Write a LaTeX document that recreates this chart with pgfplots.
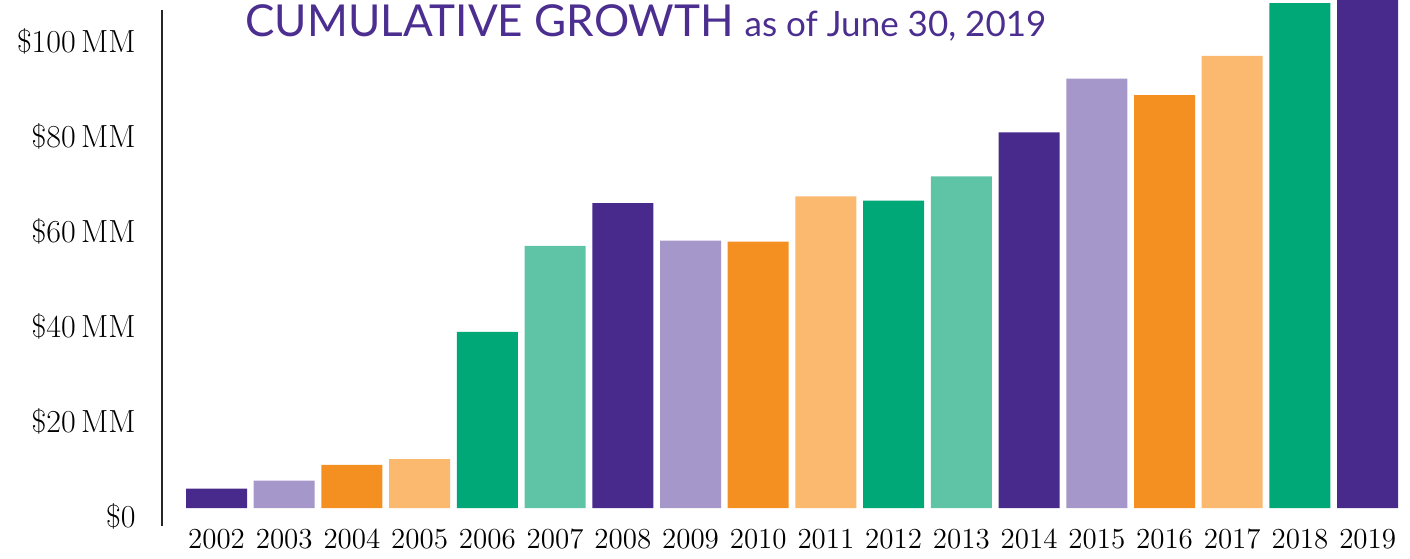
\documentclass[border=0pt]{standalone}
\usepackage{pgfplots}
\pgfplotsset{compat=1.18}
\usepackage{fontspec}
\newfontfamily\titlefont{Lato}
\definecolor{cpurple}{HTML}{472A8C}
\definecolor{clav}{HTML}{A597C9}
\definecolor{corange}{HTML}{F39021}
\definecolor{clorange}{HTML}{FBB970}
\definecolor{cgreen}{HTML}{00A877}
\definecolor{clgreen}{HTML}{5EC4A5}
\definecolor{ctitle}{HTML}{4B2E8F}
\begin{document}
\begin{tikzpicture}
\path[use as bounding box] (-81pt,-25pt) rectangle (624pt,254pt);
\begin{axis}[
  at={(0,0)}, anchor=south west,
  scale only axis, width=624pt, height=254pt,
  xmin=-0.805, xmax=17.625, ymin=0, ymax=106.95,
  axis line style={draw=none},
  major tick length=0pt,
  ytick={0,20,40,60,80,100},
  yticklabels={\$0,\$20\,MM,\$40\,MM,\$60\,MM,\$80\,MM,\$100\,MM},
  xtick={0,...,17},
  xticklabels={2002,2003,2004,2005,2006,2007,2008,2009,2010,2011,2012,2013,2014,2015,2016,2017,2018,2019},
  yticklabel style={font=\fontsize{16}{16}\selectfont, xshift=-9.7pt, yshift=-4pt},
  xticklabel style={font=\fontsize{14.5}{14.5}\selectfont, yshift=-7pt},
  ybar, bar width=30.5pt, bar shift=0pt,
  every axis plot/.append style={draw=none},
]
\addplot[fill=cpurple] coordinates {(0,4.06) (6,64.2) (12,79.1) (17,110)};
\addplot[fill=clav] coordinates {(1,5.75) (7,56.3) (13,90.4)};
\addplot[fill=corange] coordinates {(2,9.1) (8,56.1) (14,86.9)};
\addplot[fill=clorange] coordinates {(3,10.3) (9,65.6) (15,95.2)};
\addplot[fill=cgreen] coordinates {(4,37.1) (10,64.7) (16,106.3)};
\addplot[fill=clgreen] coordinates {(5,55.2) (11,69.8)};
\end{axis}
\draw[line width=1.4pt, black!85] (0,-9pt) -- (0,249pt);
\node[anchor=base west, inner sep=0pt, text=ctitle] at (41.5pt,235.5pt)
  {\titlefont\fontsize{22}{22}\selectfont CUMULATIVE GROWTH\hspace{0.25em}{\fontsize{17.5}{17.5}\selectfont as of June 30, 2019}};
\end{tikzpicture}
\end{document}
